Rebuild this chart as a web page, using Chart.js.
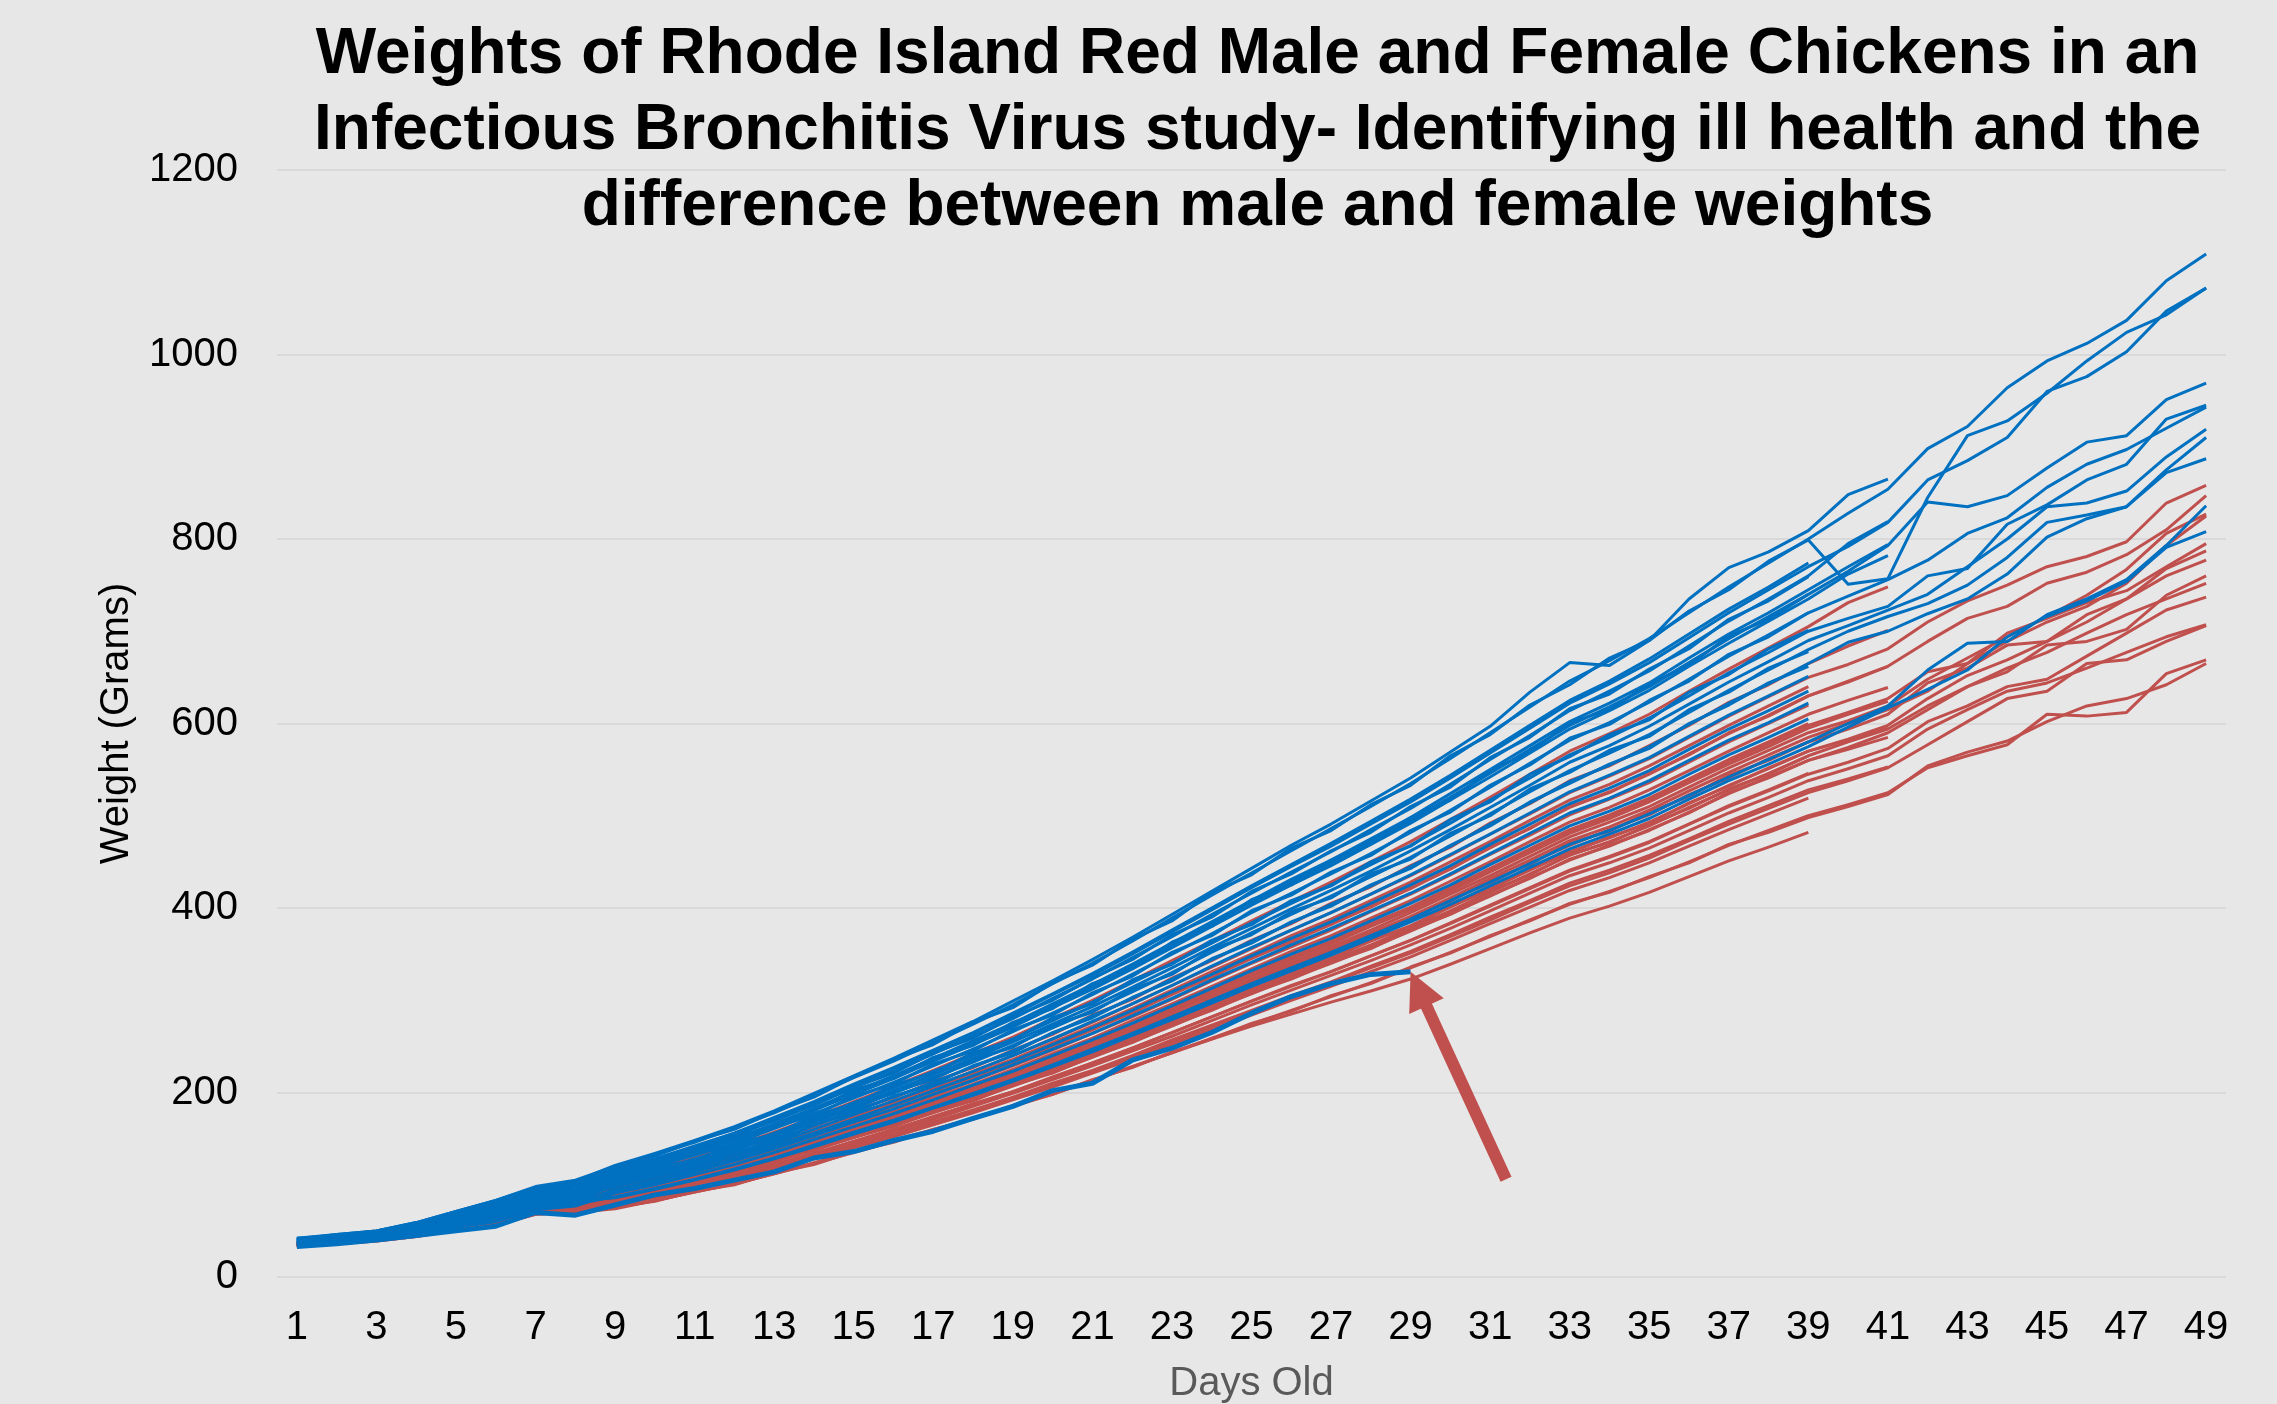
<!DOCTYPE html>
<html>
<head>
<meta charset="utf-8">
<title>Rhode Island Red weights</title>
<script src="https://cdn.jsdelivr.net/npm/chart.js@4.4.1/dist/chart.umd.min.js"></script>
<style>
html, body { margin: 0; padding: 0; background: #e7e7e7; }
canvas { display: block; }
</style>
</head>
<body>
<canvas id="chart" width="2277" height="1404"></canvas>
<script>
// x categories: days old
const days = [1,2,3,4,5,6,7,8,9,10,11,12,13,14,15,16,17,18,19,20,21,22,23,24,25,
  26,27,28,29,30,31,32,33,34,35,36,37,38,39,40,41,42,43,44,45,46,47,48,49];

const titleLines = [
  'Weights of Rhode Island Red Male and Female Chickens in an',
  'Infectious Bronchitis Virus study- Identifying ill health and the',
  'difference between male and female weights'
];

// male with ill health (stops at day 29), arrow points at its last weighing
const illMale = [33,36,40,45,50,55,70,67,78,89,96,105,114,129,136,148,158,172,185,202,210,235,248,265,286,304,318,328,331];
const arrowTailDay = 31.4;
const arrowTailWeight = 106;

// males (grams per day)
const m01 = [42,46,50,59,71,83,98,105,120,133,146,162,178,197,216,234,254,274,295,318,340,364,389,414,438,462,486,510,535,562,590,618,646,668,692,720,748,774,800,828,854,898,922,964,993,1012,1037,1080,1109];
const m02 = [41,45,49,58,69,80,95,102,116,128,141,156,172,189,208,226,245,264,284,306,327,350,374,398,422,445,467,491,515,541,568,595,622,643,666,693,720,745,770,792,818,864,885,910,960,976,1003,1047,1072];
const m03 = [40,44,48,56,67,78,92,99,118,131,147,160,179,195,217,236,252,276,292,319,338,366,386,417,436,465,484,512,533,565,588,620,642,671,690,722,745,776,799,751,757,845,912,928,958,993,1024,1043,1072];
const m04 = [41,44,49,57,67,79,93,100,111,123,135,149,165,182,200,217,235,254,273,294,315,337,360,383,406,428,449,472,495,520,546,572,598,618,640,666,692,716,740,765,793,840,835,847,877,905,912,951,969];
const m05 = [39,43,47,55,65,75,90,95,108,120,132,145,161,177,194,211,229,247,266,286,306,328,350,372,395,416,437,459,482,506,531,557,582,601,623,648,673,696,720,738,756,777,806,823,856,881,897,920,943];
const m06 = [38,42,46,53,63,73,87,92,105,116,128,141,156,172,189,205,223,240,258,278,298,319,340,362,384,405,425,447,468,492,517,541,566,585,606,630,655,677,700,714,727,760,768,816,837,864,881,930,945];
const m07 = [39,42,47,54,64,74,88,91,104,115,126,139,154,170,186,202,219,237,255,274,293,314,335,357,378,399,419,440,462,485,509,533,558,576,597,621,645,667,690,706,723,740,770,800,835,839,852,889,919];
const m08 = [37,41,45,52,61,70,84,89,102,113,124,137,152,167,184,199,216,233,251,270,289,309,330,352,373,393,413,434,455,478,502,526,549,568,588,612,636,658,680,700,716,730,750,780,818,826,835,875,910];
const m09 = [38,41,46,52,62,71,85,88,100,110,122,134,148,164,180,195,211,228,245,264,283,302,323,344,364,384,404,424,445,467,491,514,537,555,575,599,622,643,665,688,700,719,735,762,802,822,835,872,887];
const m10 = [35,38,42,48,56,63,76,79,87,96,106,117,129,143,157,170,184,199,214,230,247,264,282,300,318,335,352,370,388,408,428,448,469,484,502,522,542,561,580,600,619,658,687,689,718,735,756,793,836];
const m11 = [36,39,43,49,58,65,78,83,86,95,105,116,128,141,155,168,183,197,212,228,244,262,279,297,315,332,349,367,385,404,424,444,464,480,497,518,538,556,575,596,617,637,658,694,716,733,754,791,808];
const m12 = [42,45,50,58,70,82,97,104,121,134,148,163,180,199,218,237,257,277,299,321,344,368,393,418,443,468,491,516,541,569,597,634,666,663,690,735,769,786,809,848,865];
const m13 = [40,44,48,56,67,78,92,99,114,126,139,154,169,187,205,223,242,261,280,302,323,346,369,393,416,439,461,485,508,534,561,587,614,635,657,684,711,735,760,795,819];
const m14 = [40,43,48,55,66,76,91,96,112,124,136,150,166,183,201,218,237,256,275,296,317,339,362,385,408,431,452,475,498,524,550,576,602,622,644,671,697,720,745,770,794];
const m15 = [39,43,47,55,65,75,90,95,110,122,135,148,164,181,198,215,234,252,271,292,312,334,357,380,403,425,446,469,492,517,542,568,594,614,636,662,687,711,735,762,782];
const m16 = [41,46,50,59,71,83,97,104,116,128,142,156,173,190,209,227,246,265,286,307,329,352,376,400,424,447,470,494,518,544,571,598,625,646,670,697,724,748,774];
const m17 = [38,42,46,53,63,73,87,92,113,127,140,152,171,186,206,221,243,259,282,300,324,344,371,390,418,437,462,482,510,531,563,585,616,632,659,681,713,733,759];
const m18 = [41,45,49,58,69,80,95,101,114,125,138,151,163,180,203,215,238,251,276,291,318,334,363,380,409,425,452,469,498,517,549,569,601,615,643,663,695,713,740];
const m19 = [37,41,45,52,61,70,84,89,110,118,134,143,163,175,196,209,231,245,268,284,308,326,352,370,397,414,439,457,484,504,533,555,584,599,625,646,675,694,720];
const m20 = [37,40,44,51,60,68,81,86,107,119,126,145,154,175,187,208,221,243,257,281,296,322,339,365,382,408,424,450,467,496,515,545,564,588,604,634,653,681,701];
const m21 = [39,43,47,55,65,75,89,94,100,114,122,139,150,169,182,201,214,236,249,273,287,312,328,355,371,396,411,437,453,481,500,529,547,571,586,615,634,660,678];
const m22 = [36,39,43,49,58,65,78,83,99,111,120,135,146,165,178,196,209,229,243,265,281,303,321,345,362,385,402,425,443,468,489,515,535,556,573,600,620,644,662];
const m23 = [36,40,44,51,60,68,81,86,98,108,119,131,145,160,176,191,207,223,240,258,277,296,316,337,357,376,395,415,436,458,480,503,526,544,563,586,609,630,651];
const m24 = [35,38,42,48,56,63,76,80,95,105,116,128,142,156,171,186,202,218,234,252,270,289,309,328,348,367,385,405,425,446,469,491,513,530,549,572,594,614,635];
const m25 = [36,39,43,50,58,66,79,83,93,103,114,126,139,153,168,182,198,213,230,247,264,283,302,322,341,360,378,397,416,437,459,481,503,519,538,560,582,601,622];
const m26 = [34,37,41,46,54,60,73,77,91,100,111,122,135,149,163,177,192,208,223,240,257,275,294,313,332,350,367,386,405,425,447,468,489,505,523,545,566,585,605];

// females (grams per day)
const f01 = [37,41,45,52,61,70,84,89,98,108,119,131,145,160,176,190,207,223,240,258,276,296,316,336,356,376,395,415,435,457,480,502,525,543,562,585,608,629,650,664,681,710,733,750,770,781,797,839,858];
const f02 = [37,40,44,51,60,68,81,86,95,105,115,127,140,155,170,185,200,216,232,250,268,287,306,326,345,364,382,402,421,443,465,487,509,526,545,567,589,609,630,645,662,689,714,727,752,764,783,810,847];
const f03 = [36,39,43,49,58,65,78,83,89,98,108,119,132,145,159,173,188,202,218,234,251,268,287,305,323,341,358,376,395,415,435,456,477,493,510,531,552,571,590,603,619,648,671,694,716,739,767,806,827];
const f04 = [35,38,42,48,56,63,76,80,90,99,109,121,133,147,161,175,190,205,221,237,254,272,291,309,328,346,363,382,400,420,441,462,483,499,517,538,559,578,598,612,627,656,665,689,710,727,752,793,825];
const f05 = [36,39,43,50,58,66,79,82,88,97,107,118,130,144,158,171,186,201,216,232,249,266,284,302,321,338,355,373,391,411,432,452,473,488,506,527,547,566,585,600,615,635,665,698,714,731,744,770,795];
const f06 = [34,37,41,46,54,60,73,77,89,95,108,116,131,142,159,169,186,198,216,229,249,263,284,299,320,334,354,369,390,407,430,447,471,483,504,521,544,560,580,594,610,644,660,685,689,718,735,768,787];
const f07 = [35,38,42,48,57,63,75,79,86,95,104,115,127,140,154,167,181,196,210,226,242,259,277,295,312,329,346,364,381,401,421,441,461,476,493,513,533,551,570,583,598,627,652,669,689,710,735,760,777];
const f08 = [34,37,41,47,54,61,73,77,85,94,103,114,126,139,153,166,180,194,208,224,240,257,275,292,310,327,343,360,378,397,417,437,457,472,489,509,528,546,565,580,594,619,640,656,685,689,702,739,760];
const f09 = [35,38,41,48,56,62,74,78,84,93,102,113,125,138,151,164,178,192,207,222,238,255,272,290,307,324,340,357,375,394,413,433,452,468,484,504,524,542,560,574,590,615,640,660,677,698,718,735,752];
const f10 = [33,36,40,45,52,58,70,73,82,90,100,110,122,134,147,160,173,187,201,216,232,248,265,282,299,315,331,348,365,383,402,421,440,455,471,491,510,527,545,558,573,602,619,640,648,673,698,723,737];
const f11 = [34,37,40,46,53,59,71,75,81,89,98,109,120,132,145,158,171,185,199,214,229,245,261,278,295,311,327,343,360,378,397,416,435,449,465,484,503,520,538,551,565,594,615,635,644,660,677,694,707];
const f12 = [33,36,40,45,52,58,70,72,79,87,96,106,117,129,142,154,167,180,194,208,223,239,255,271,288,303,319,335,351,369,387,406,424,438,454,473,491,508,525,538,552,577,602,627,635,665,669,689,706];
const f13 = [33,36,39,44,51,57,68,71,75,83,92,101,112,123,135,147,159,172,185,199,213,228,243,259,274,289,304,319,335,352,369,387,404,418,433,450,468,484,500,512,525,552,565,577,610,608,612,654,669];
const f14 = [34,36,40,45,52,57,69,71,76,82,93,100,113,122,136,146,160,171,186,198,214,227,244,258,275,288,305,318,336,351,370,386,405,417,434,449,469,482,498,510,523,554,569,581,602,619,627,642,665];
const f15 = [38,42,46,53,63,73,87,92,106,117,129,142,157,173,190,207,224,242,260,280,300,321,343,364,386,407,428,450,472,496,520,545,570,589,610,635,659,682,705,731,748];
const f16 = [36,40,44,51,60,68,82,87,101,109,123,133,149,163,181,194,212,227,246,263,284,301,324,343,365,383,405,423,446,466,492,513,538,554,576,598,623,642,665,684,701];
const f17 = [36,39,43,49,58,65,78,83,96,104,116,126,141,154,171,184,201,215,233,249,269,286,307,325,346,363,383,401,422,442,466,486,510,525,546,566,590,608,630,646,662];
const f18 = [37,40,44,50,59,67,80,84,92,101,112,123,136,150,165,179,194,209,225,242,259,278,296,315,334,353,370,389,408,429,450,472,493,509,528,549,570,590,610,625,639];
const f19 = [35,38,42,48,56,63,76,80,89,99,109,120,133,146,161,174,189,204,220,236,253,271,289,308,326,344,361,380,398,418,439,460,481,497,515,536,556,575,595,610,624];
const f20 = [34,37,41,46,54,60,72,76,85,96,103,116,126,141,153,168,180,197,209,227,241,260,276,296,311,330,345,365,380,402,420,442,460,477,492,514,532,552,570,582,595];
const f21 = [35,38,42,47,55,62,74,78,85,92,103,112,126,137,152,163,179,191,208,221,239,254,273,289,308,323,341,356,376,393,414,432,453,467,485,503,525,541,560,572,585];
const f22 = [33,36,40,45,52,58,70,73,79,88,97,107,118,130,143,155,168,181,195,210,224,240,257,273,289,305,320,337,353,371,390,408,427,441,457,475,494,511,528,540,553];
const f23 = [36,39,43,49,58,65,78,84,96,106,117,129,143,157,173,188,204,220,236,254,272,291,311,331,350,370,388,408,428,450,472,495,517,534,554,576,598,619,640];
const f24 = [35,38,42,48,56,63,76,80,93,103,113,125,138,153,167,182,197,213,229,246,264,282,301,321,340,358,376,396,415,436,458,479,501,518,536,558,580,600,620];
const f25 = [36,39,43,50,58,66,79,83,90,100,110,121,134,148,162,176,191,206,221,238,255,273,292,310,329,347,364,383,401,422,443,464,485,501,519,540,561,580,600];
const f26 = [34,37,41,46,54,60,73,77,86,97,105,118,128,144,156,171,183,200,213,231,246,265,281,301,317,336,351,371,387,409,427,449,468,485,501,523,541,562,580];
const f27 = [35,38,42,48,56,63,75,79,86,93,104,113,127,138,154,165,181,193,209,223,241,256,276,291,311,326,344,359,379,396,418,436,458,471,490,508,529,545,565];
const f28 = [33,36,40,45,52,58,70,74,82,91,100,110,122,134,147,160,174,188,201,217,232,248,265,282,299,316,331,348,365,384,403,422,441,456,472,491,511,528,546];
const f29 = [34,37,40,46,53,59,71,74,78,86,95,105,116,128,140,152,165,178,192,206,221,236,252,268,284,300,315,331,347,365,383,401,419,433,449,467,485,502,519];
const f30 = [33,36,39,44,51,56,68,70,74,83,92,101,112,124,136,148,160,172,185,198,213,228,243,258,272,285,298,310,323,339,356,373,389,402,417,434,451,466,482];

const males = [m01,m02,m03,m04,m05,m06,m07,m08,m09,m10,m11,m12,m13,m14,m15,m16,m17,m18,m19,m20,m21,m22,m23,m24,m25,m26];
const females = [f01,f02,f03,f04,f05,f06,f07,f08,f09,f10,f11,f12,f13,f14,f15,f16,f17,f18,f19,f20,f21,f22,f23,f24,f25,f26,f27,f28,f29,f30];

const BLUE = '#0070c0';
const RED = '#c0504d';
const FONT = "'Liberation Sans', Arial, sans-serif";

// dataset 0 is drawn last, so the ill bird goes first, then males, then females
const datasets = [{ data: illMale, borderColor: BLUE, borderWidth: 5 }];
males.forEach(m => datasets.push({ data: m, borderColor: BLUE, borderWidth: 3 }));
females.forEach(f => datasets.push({ data: f, borderColor: RED, borderWidth: 3 }));

// title sits over the top of the plot, so it is drawn by hand
const titlePlugin = {
    id: 'bigTitle',
    afterDraw(chart) {
        const ctx = chart.ctx;
        const cx = (chart.chartArea.left + chart.chartArea.right) / 2 + 6;
        ctx.save();
        ctx.font = 'bold 64px ' + FONT;
        ctx.fillStyle = '#000';
        ctx.textAlign = 'center';
        ctx.textBaseline = 'alphabetic';
        titleLines.forEach((t, i) => ctx.fillText(t, cx, 73 + i * 76));
        ctx.restore();
    }
};

// arrow pointing at the last weighing of the ill male
const arrowPlugin = {
    id: 'illArrow',
    afterDatasetsDraw(chart) {
        const pts = chart.getDatasetMeta(0).data;
        const tip = pts[pts.length - 1];
        const sx = chart.scales.x.getPixelForValue(arrowTailDay - 1);
        const sy = chart.scales.y.getPixelForValue(arrowTailWeight);
        const dx = tip.x - sx, dy = tip.y - sy;
        const len = Math.sqrt(dx * dx + dy * dy);
        const ux = dx / len, uy = dy / len;
        const headLen = 38, halfW = 19;
        const bx = tip.x - ux * headLen, by = tip.y - uy * headLen;
        const ctx = chart.ctx;
        ctx.save();
        ctx.strokeStyle = RED;
        ctx.fillStyle = RED;
        ctx.lineWidth = 12;
        ctx.beginPath();
        ctx.moveTo(sx, sy);
        ctx.lineTo(bx + ux * 4, by + uy * 4);
        ctx.stroke();
        ctx.beginPath();
        ctx.moveTo(tip.x, tip.y);
        ctx.lineTo(bx - uy * halfW, by + ux * halfW);
        ctx.lineTo(bx + uy * halfW, by - ux * halfW);
        ctx.closePath();
        ctx.fill();
        ctx.restore();
    }
};

new Chart(document.getElementById('chart'), {
    type: 'line',
    data: { labels: days, datasets: datasets },
    options: {
        responsive: false,
        animation: false,
        devicePixelRatio: 1,
        layout: { padding: { top: 170, right: 51, left: 0, bottom: 0 } },
        elements: {
            point: { radius: 0, hoverRadius: 0 },
            line: { tension: 0, borderJoinStyle: 'round', borderCapStyle: 'butt' }
        },
        plugins: {
            legend: { display: false },
            title: { display: false },
            tooltip: { enabled: false }
        },
        scales: {
            x: {
                type: 'category',
                offset: true,
                grid: { display: false, drawTicks: false },
                border: { display: false },
                ticks: {
                    autoSkip: false,
                    maxRotation: 0,
                    minRotation: 0,
                    padding: 27,
                    color: '#000',
                    font: { family: FONT, size: 40 },
                    callback: function(value, index) {
                        return index % 2 === 0 ? this.getLabelForValue(value) : '';
                    }
                },
                title: {
                    display: true,
                    text: 'Days Old',
                    color: '#595959',
                    font: { family: FONT, size: 40, lineHeight: 1 },
                    padding: 0
                },
                afterFit: function(scale) { scale.height = 127; }
            },
            y: {
                min: 0,
                max: 1200,
                ticks: {
                    stepSize: 200,
                    padding: 39,
                    color: '#000',
                    font: { family: FONT, size: 40 },
                    callback: value => String(value)
                },
                grid: { color: '#d9d9d9', lineWidth: 2, drawTicks: false },
                border: { display: false },
                title: {
                    display: true,
                    text: 'Weight (Grams)',
                    color: '#000',
                    font: { family: FONT, size: 40, lineHeight: 1 },
                    padding: { top: 97, bottom: 0 }
                },
                afterFit: function(scale) { scale.width = 277; }
            }
        }
    },
    plugins: [titlePlugin, arrowPlugin]
});
</script>
</body>
</html>
